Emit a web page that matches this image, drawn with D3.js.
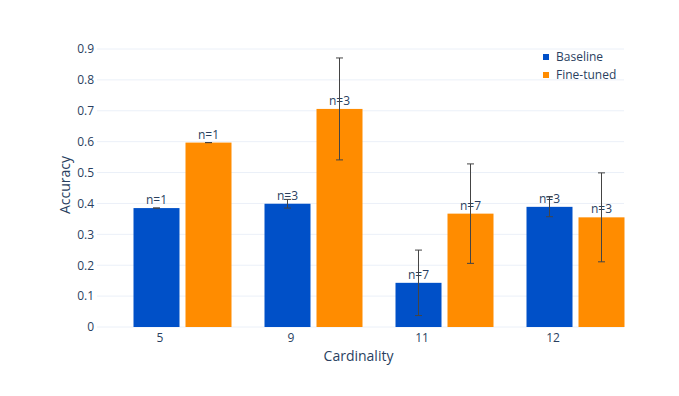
<!DOCTYPE html>
<html lang="en">

<head>
  <title></title>
  <meta charset="UTF-8">
  <style>
    body {
      margin: 0;
      background: #fff;
    }
    text {
      font-family: "Open Sans", sans-serif;
    }
  </style>
</head>

<body>
  <div id="container"></div>
  <script src="https://cdn.jsdelivr.net/npm/d3@7"></script>
  <script>
    const categories = ['5', '9', '11', '12'];
    const seriesNames = ['Baseline', 'Fine-tuned'];
    const baselineValues = [0.385, 0.399, 0.143, 0.389];
    const baselineErrors = [0, 0.014, 0.106, 0.032];
    const baselineCounts = [1, 3, 7, 3];
    const finetunedValues = [0.597, 0.706, 0.367, 0.355];
    const finetunedErrors = [0, 0.165, 0.161, 0.144];
    const finetunedCounts = [1, 3, 7, 3];
    const yTicks = [0, 0.1, 0.2, 0.3, 0.4, 0.5, 0.6, 0.7, 0.8, 0.9];

    const colors = { 'Baseline': '#0050c8', 'Fine-tuned': '#ff8c00' };
    const width = 679, height = 396;
    const plot = { left: 97, right: 624, top: 43, bottom: 327 };
    const fontColor = '#2a3f5f';

    const svg = d3.select('#container').append('svg')
      .attr('width', width)
      .attr('height', height);

    // tick positions sit under the first bar of each group
    const x = d3.scalePoint()
      .domain(categories)
      .range([159.5, 552.5]);
    const xs = d3.scaleBand()
      .domain(seriesNames)
      .range([0, 98])
      .paddingInner(0.1154);
    const groupShift = -26;

    const y = d3.scaleLinear()
      .domain([0, 0.9])
      .range([plot.bottom, 49]);

    // gridlines
    svg.append('g')
      .selectAll('line')
      .data(yTicks)
      .join('line')
      .attr('x1', plot.left)
      .attr('x2', plot.right)
      .attr('y1', d => y(d))
      .attr('y2', d => y(d))
      .attr('stroke', '#ebf0f8')
      .attr('stroke-width', 1);

    // y axis
    const yAxis = svg.append('g')
      .attr('transform', `translate(${plot.left},0)`)
      .call(d3.axisLeft(y).tickValues(yTicks).tickSize(0).tickPadding(3)
        .tickFormat(d => d === 0 ? '0' : d3.format('.1f')(d)));
    yAxis.select('.domain').remove();
    yAxis.selectAll('text')
      .attr('fill', fontColor)
      .style('font-size', '12px')
      .style('font-family', '"Open Sans", sans-serif');

    // x axis
    const xAxis = svg.append('g')
      .attr('transform', `translate(0,${plot.bottom})`)
      .call(d3.axisBottom(x).tickSize(0).tickPadding(6));
    xAxis.select('.domain').remove();
    xAxis.selectAll('text')
      .attr('fill', fontColor)
      .style('font-size', '12px')
      .style('font-family', '"Open Sans", sans-serif');

    const rows = [];
    categories.forEach((c, i) => {
      rows.push({ cat: c, series: 'Baseline', value: baselineValues[i], err: baselineErrors[i], n: baselineCounts[i] });
      rows.push({ cat: c, series: 'Fine-tuned', value: finetunedValues[i], err: finetunedErrors[i], n: finetunedCounts[i] });
    });
    const barX = d => x(d.cat) + groupShift + xs(d.series);

    // bars
    svg.append('g')
      .selectAll('rect')
      .data(rows)
      .join('rect')
      .attr('x', barX)
      .attr('width', xs.bandwidth())
      .attr('y', d => y(d.value))
      .attr('height', d => y(0) - y(d.value))
      .attr('fill', d => colors[d.series]);

    // count labels
    svg.append('g')
      .selectAll('text')
      .data(rows)
      .join('text')
      .attr('x', d => barX(d) + xs.bandwidth() / 2)
      .attr('y', d => y(d.value) - 4)
      .attr('text-anchor', 'middle')
      .attr('fill', fontColor)
      .style('font-size', '12px')
      .text(d => 'n=' + d.n);

    // error bars
    const errG = svg.append('g')
      .selectAll('g')
      .data(rows)
      .join('g')
      .attr('stroke', '#444')
      .attr('stroke-width', 1);
    const cx = d => barX(d) + xs.bandwidth() / 2;
    errG.append('line')
      .attr('x1', cx).attr('x2', cx)
      .attr('y1', d => y(d.value + d.err))
      .attr('y2', d => y(d.value - d.err));
    errG.append('line')
      .attr('x1', d => cx(d) - 3.5).attr('x2', d => cx(d) + 3.5)
      .attr('y1', d => y(d.value + d.err))
      .attr('y2', d => y(d.value + d.err));
    errG.append('line')
      .attr('x1', d => cx(d) - 3.5).attr('x2', d => cx(d) + 3.5)
      .attr('y1', d => y(d.value - d.err))
      .attr('y2', d => y(d.value - d.err));

    // axis titles
    svg.append('text')
      .attr('x', (plot.left + plot.right) / 2 - 2)
      .attr('y', 361)
      .attr('text-anchor', 'middle')
      .attr('fill', fontColor)
      .style('font-size', '14px')
      .text('Cardinality');
    svg.append('text')
      .attr('transform', 'translate(70,185) rotate(-90)')
      .attr('text-anchor', 'middle')
      .attr('fill', fontColor)
      .style('font-size', '14px')
      .text('Accuracy');

    // legend
    const legend = svg.append('g')
      .selectAll('g')
      .data(seriesNames)
      .join('g')
      .attr('transform', (d, i) => `translate(543,${57 + i * 18})`);
    legend.append('rect')
      .attr('x', 0)
      .attr('y', -3)
      .attr('width', 6)
      .attr('height', 6)
      .attr('fill', d => colors[d]);
    legend.append('text')
      .attr('x', 13)
      .attr('y', 4)
      .attr('fill', fontColor)
      .style('font-size', '12px')
      .text(d => d);
  </script>
</body>

</html>
